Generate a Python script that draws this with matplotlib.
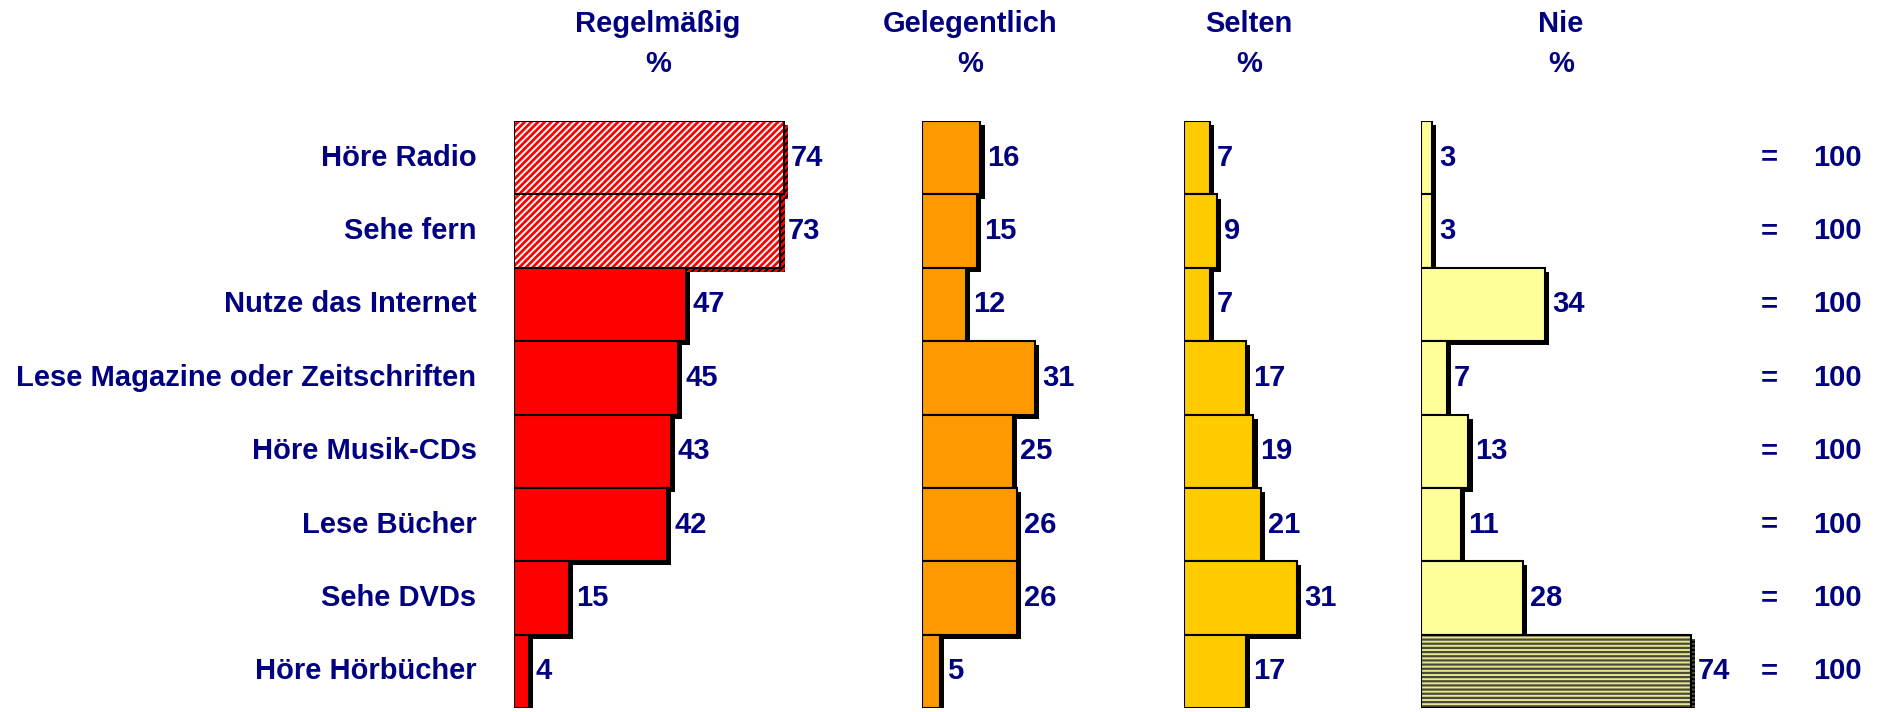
import matplotlib
matplotlib.use("Agg")
import matplotlib.pyplot as plt
import matplotlib.patheffects as pe
from matplotlib.transforms import blended_transform_factory

categories = ["Höre Radio", "Sehe fern", "Nutze das Internet",
              "Lese Magazine oder Zeitschriften", "Höre Musik-CDs",
              "Lese Bücher", "Sehe DVDs", "Höre Hörbücher"]
groups = ["Regelmäßig", "Gelegentlich", "Selten", "Nie"]
regelmaessig = [74, 73, 47, 45, 43, 42, 15, 4]
gelegentlich = [16, 15, 12, 31, 25, 26, 26, 5]
selten = [7, 9, 7, 17, 19, 21, 31, 17]
nie = [3, 3, 34, 7, 13, 11, 28, 74]
totals = [100] * 8
series = [regelmaessig, gelegentlich, selten, nie]

colors = ["#ff0000", "#ff9900", "#ffcc00", "#ffff99"]
# special hatched cells: (group index, row index) -> (face, hatch colour, hatch, hatch lw)
special = {(0, 0): ("white", "#ff0000", "/////", 2.0),
           (0, 1): ("white", "#ff0000", "/////", 2.0),
           (3, 7): ("#e8e88e", "#4a4a3c", "----", 1.6)}

plt.rcParams['font.family'] = ['Liberation Sans', 'DejaVu Sans']
plt.rcParams['hatch.linewidth'] = 1.8
navy = "#000080"
FS = 21

W, H = 1883, 712
fig = plt.figure(figsize=(W / 100, H / 100), dpi=100)
starts = [514, 922, 1184, 1421]
ppu = 3.65
ax_bottom = (H - 708) / H
ax_top = (H - 121) / H
header_x = [658, 970, 1249, 1561]

shadow = [pe.SimplePatchShadow(offset=(3, -3), shadow_rgbFace='black', alpha=1.0), pe.Normal()]

axes = []
for g, (name, vals) in enumerate(zip(groups, series)):
    ax = fig.add_axes([starts[g] / W, ax_bottom, 100 * ppu / W, ax_top - ax_bottom])
    ax.set_xlim(0, 100)
    ax.set_ylim(len(categories) - 0.5, -0.5)
    ax.axis('off')
    for i, v in enumerate(vals):
        if (g, i) in special:
            face, hc, hatch, hlw = special[(g, i)]
            bars = ax.barh(i, v, height=1.0, left=0, color=face, edgecolor=hc, hatch=hatch,
                           linewidth=0, path_effects=shadow)
            for p in bars:
                if hasattr(p, "set_hatch_linewidth"):
                    p.set_hatch_linewidth(hlw)
            ax.barh(i, v, height=1.0, left=0, color='none', edgecolor='black', linewidth=1.5)
        else:
            ax.barh(i, v, height=1.0, left=0, color=colors[g], edgecolor='black',
                    linewidth=1.5, path_effects=shadow)
        ax.annotate(str(v), xy=(v, i), xytext=(5, 0), textcoords='offset points',
                    ha='left', va='center', fontsize=FS, fontweight='bold', color=navy)
    fig.text(header_x[g] / W, 1 - 24 / H, name, ha='center', va='center',
             fontsize=FS, fontweight='bold', color=navy)
    fig.text(header_x[g] / W, 1 - 64 / H, "%", ha='center', va='center',
             fontsize=FS, fontweight='bold', color=navy)
    axes.append(ax)

ax0 = axes[0]
for i, c in enumerate(categories):
    ax0.annotate(c, xy=(0, i), xytext=(-27, 0), textcoords='offset points',
                 ha='right', va='center', fontsize=FS, fontweight='bold', color=navy)

tr = blended_transform_factory(fig.transFigure, axes[3].transData)
for i, t in enumerate(totals):
    axes[3].text(1769 / W, i, "=", transform=tr, ha='center', va='center',
                 fontsize=FS, fontweight='bold', color=navy)
    axes[3].text(1862 / W, i, str(t), transform=tr, ha='right', va='center',
                 fontsize=FS, fontweight='bold', color=navy)

fig.savefig("out.png", dpi=100)
